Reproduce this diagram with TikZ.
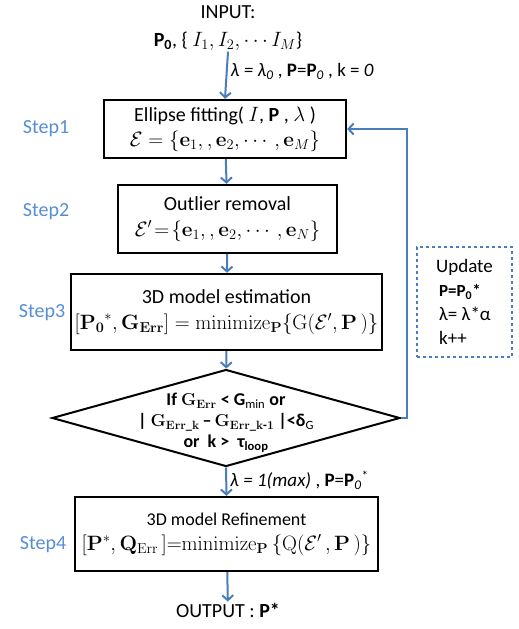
\documentclass[tikz,border=0pt]{standalone}
\usepackage{amsmath}
\usepackage[no-math]{fontspec}
\setmainfont{Carlito}
\usetikzlibrary{arrows.meta, positioning, shapes.geometric, calc}

\definecolor{flowblue}{HTML}{4A7EBB}
\definecolor{stepblue}{HTML}{558ED5}

\begin{document}
\begin{tikzpicture}[x=1pt, y=-1pt,
  proc/.style={rectangle, draw, line width=2.4pt, align=center,
    inner sep=2pt, font=\fontsize{20}{24}\selectfont},
  cond/.style={diamond, draw, line width=2pt, inner sep=0pt,
    minimum width=348pt, minimum height=97pt},
  plain/.style={align=center, inner sep=1pt, font=\fontsize{20}{24}\selectfont},
  steplabel/.style={text=stepblue, font=\fontsize{20}{24}\selectfont},
  note/.style={right, text=black, inner sep=3pt, font=\fontsize{19}{22}\selectfont},
  flow/.style={-{Straight Barb[length=5pt, width=11pt]}, line width=2pt, color=flowblue},
  update/.style={rectangle, draw=flowblue, dashed, line width=1.2pt,
    minimum width=95pt, minimum height=110pt, align=left,
    font=\fontsize{19}{24}\selectfont}
]
  \useasboundingbox (0,0) rectangle (519,629);

  % input and the four processing blocks
  \node[plain] (in) at (228,28)
    {INPUT:\\[4pt] \textbf{P\textsubscript{0}}, \{ $I_1, I_2, \cdots I_M$\}};

  \node[proc, minimum width=242pt, minimum height=58pt] (fit) at (225,129)
    {Ellipse fitting( $I$, \textbf{P} , $\lambda$ )\\[1pt]
     $\mathcal{E} = \{\mathbf{e}_1,, \mathbf{e}_2, \cdots, \mathbf{e}_M\}$};

  \node[proc, minimum width=219pt, minimum height=68pt] (outl) at (227.5,219)
    {Outlier removal\\[2pt]
     $\mathcal{E}'\!=\!\{\mathbf{e}_1,, \mathbf{e}_2, \cdots, \mathbf{e}_N\}$};

  \node[proc, minimum width=311pt, minimum height=76pt] (est) at (226.5,312)
    {3D model estimation\\[2pt]
     $[\mathbf{P_0}^*, \mathbf{G}_{\mathbf{Err}}] = \mathrm{minimize}_{\mathbf{P}}
      \{\mathrm{G}(\mathcal{E}', \mathbf{P}\,)\}$};

  \node[cond] (cond) at (226,418) {};
  \node[align=center, inner sep=0pt, font=\fontsize{18}{21}\selectfont\bfseries]
    (condtxt) at ([yshift=-5pt]cond.center)
    {If $\mathbf{G}_{\mathbf{Err}}$ < G\textsubscript{\mdseries min} or\\
     | $\mathbf{G}_{\mathbf{Err\_k}}$\,--\,$\mathbf{G}_{\mathbf{Err\_k\text{-}1}}$ |<δ\textsubscript{\mdseries G}\\
     or\ \ k >\ \ τ\textsubscript{loop}};

  \node[proc, minimum width=303pt, minimum height=74pt,
    font=\fontsize{18}{25}\selectfont] (refn) at (226.5,534)
    {3D model Refinement\\
     {\fontsize{20}{24}\selectfont
      $[\mathbf{P}^*, \mathbf{Q}_{\mathrm{Err}}\,] {=} \mathrm{minimize}_{\mathbf{P}}
      \,\{\mathrm{Q}(\mathcal{E}'\, , \mathbf{P}\,)\}$}};

  \node[plain] (out) at (228,610) {OUTPUT : \textbf{P*}};

  % loop update
  \node[update] (upd) at (464.5,302)
    {Update\\
     \hspace*{3pt}{\fontsize{17}{20}\selectfont\textbf{P=P\textsubscript{0}*}}\\
     \hspace*{3pt}λ= λ*α\\
     \hspace*{3pt}k++};

  % step labels
  \node[steplabel] (s1) at (46,129) {Step1};
  \node[steplabel] (s2) at (46,212) {Step2};
  \node[steplabel] (s3) at (42,313) {Step3};
  \node[steplabel] (s4) at (43,545) {Step4};

  % connectors
  \draw[flow] (in.south) -- node[note, pos=0.42]
    {\textit{λ = λ\textsubscript{0}} , \textbf{P}=\textbf{P}\textsubscript{\textit{0}} , k = \textit{0}}
    (fit.north);
  \draw[flow] (fit) -- (outl);
  \draw[flow] (outl) -- (est);
  \draw[flow] (est) -- (cond);
  \draw[flow] (cond.south) -- node[note, pos=0.45]
    {\textit{λ = 1(max)} , \textbf{P}=\textbf{P}\textsubscript{\textit{0}}\textsuperscript{*}}
    (refn.north);
  \draw[flow] (refn) -- (out);
  \draw[flow] (cond.east) -- ++(6,0) |- (fit.east);

\end{tikzpicture}
\end{document}
